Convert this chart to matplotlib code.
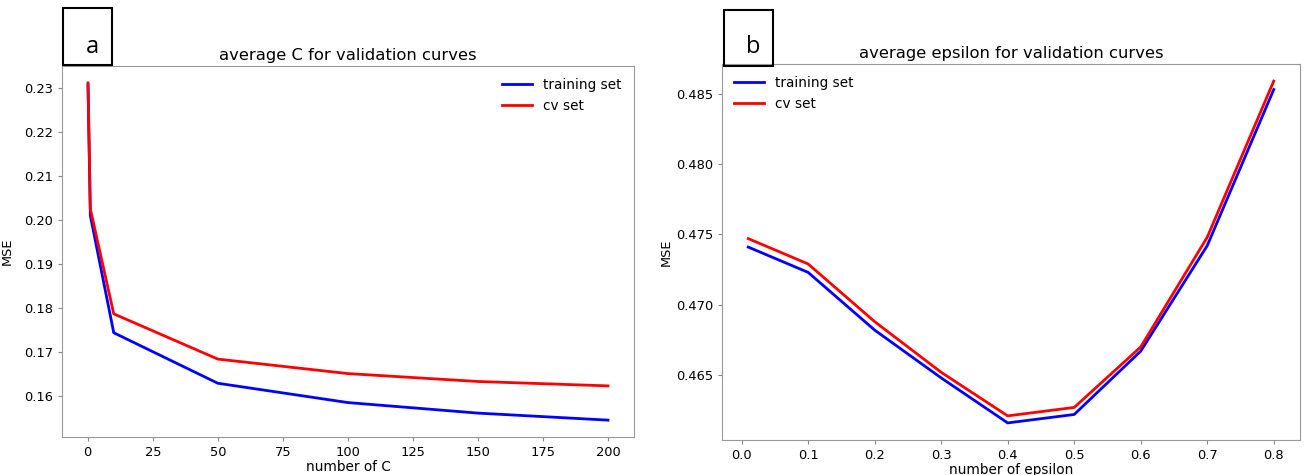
import matplotlib.pyplot as plt
from matplotlib.patches import Rectangle

# left panel: C values
c_values = [0.1, 1, 10, 50, 100, 150, 200]
c_train = [0.2308, 0.2010, 0.1743, 0.1628, 0.1584, 0.1560, 0.1544]
c_cv = [0.2312, 0.2025, 0.1786, 0.1683, 0.1650, 0.1632, 0.1622]

# right panel: epsilon values
eps_values = [0.01, 0.1, 0.2, 0.3, 0.4, 0.5, 0.6, 0.7, 0.8]
eps_train = [0.4741, 0.4723, 0.4682, 0.4648, 0.4616, 0.4622, 0.4667, 0.4742, 0.4853]
eps_cv = [0.4747, 0.4729, 0.4688, 0.4652, 0.4621, 0.4627, 0.4670, 0.4748, 0.4859]

fig = plt.figure(figsize=(13.09, 4.75), dpi=100)
ax1 = fig.add_axes([0.04736, 0.08, 0.43697, 0.78105])
ax2 = fig.add_axes([0.55157, 0.07368, 0.44156, 0.79158])


def style(ax, title, xlabel, loc, ypad):
    ax.set_title(title, fontsize=11.8, pad=4)
    ax.set_xlabel(xlabel, fontsize=9.8, labelpad=1)
    ax.set_ylabel("MSE", fontsize=9.3, labelpad=ypad)
    ax.tick_params(labelsize=9.4, color="#888888", length=3)
    for s in ax.spines.values():
        s.set_color("#999999")
    ax.legend(loc=loc, frameon=False, fontsize=9.8, handlelength=2.2)


ax1.plot(c_values, c_train, color="blue", lw=2, label="training set")
ax1.plot(c_values, c_cv, color="red", lw=2, label="cv set")
style(ax1, "average C for validation curves", "number of C", "upper right", 7)

ax2.plot(eps_values, eps_train, color="blue", lw=2, label="training set")
ax2.plot(eps_values, eps_cv, color="red", lw=2, label="cv set")
style(ax2, "average epsilon for validation curves", "number of epsilon", "upper left", 2)

# panel letters in boxes
for x0, y0, w, h, letter in [(63, 8, 49, 57, "a"), (724, 10, 49, 56, "b")]:
    fig.add_artist(Rectangle((x0 / 1309, 1 - (y0 + h) / 475), w / 1309, h / 475,
                             transform=fig.transFigure, fill=False, ec="black", lw=1.5))
    fig.text((x0 + 29) / 1309, 1 - 47 / 475, letter, fontsize=17,
             ha="center", va="center", family="Open Sans")

fig.savefig("out.png", dpi=100)
